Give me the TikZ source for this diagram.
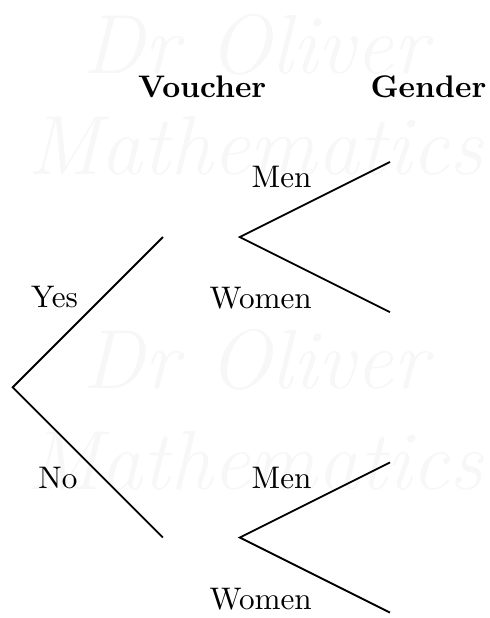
\documentclass[tikz,border=0pt]{standalone}
\tikzset{
  every node/.style={font=\fontsize{10.4}{12.5}\selectfont},
  branch/.style={semithick},
  lab/.style={anchor=base, inner sep=0pt},
  head/.style={lab, font=\fontsize{10.4}{12.5}\selectfont\bfseries},
  wmark/.style={anchor=base, inner sep=0pt, text=black!3, font=\fontsize{28}{30}\selectfont\itshape},
}

\begin{document}
\begin{tikzpicture}
\useasboundingbox (-0.149,-2.703) rectangle (5.580,4.537);

% ---------------------------------------------------------------- watermark
\foreach \y in {0,-3.69} {
  \node[wmark] at (2.84,3.68+\y) {Dr Oliver};
  \node[wmark] at (2.84,2.49+\y) {Mathematics};
}

% ---------------------------------------------------------------- headings
\node[head] (hv) at (2.22,3.40) {Voucher};
\node[head] (hg) at (4.87,3.40) {Gender};

% ---------------------------------------------------------------- first level
\coordinate (root) at (0,0);
\coordinate (yes) at (1.76,1.76);
\coordinate (no) at (1.76,-1.76);
\draw[branch] (yes) -- (root) -- (no);
\node[lab] (lyes) at (0.49,0.94) {Yes};
\node[lab] (lno) at (0.53,-1.19) {No};

% ---------------------------------------------------------------- second level
\foreach \v/\y in {yes/1.76, no/-1.76} {
  \coordinate (\v-g) at (2.66,\y);
  \coordinate (\v-m) at (4.42,\y+0.88);
  \coordinate (\v-w) at (4.42,\y-0.88);
  \draw[branch] (\v-m) -- (\v-g) -- (\v-w);
  \node[lab] (\v-men) at (3.15,\y+0.575) {Men};
  \node[lab] (\v-women) at (2.905,\y-0.84) {Women};
}

\end{tikzpicture}
\end{document}
